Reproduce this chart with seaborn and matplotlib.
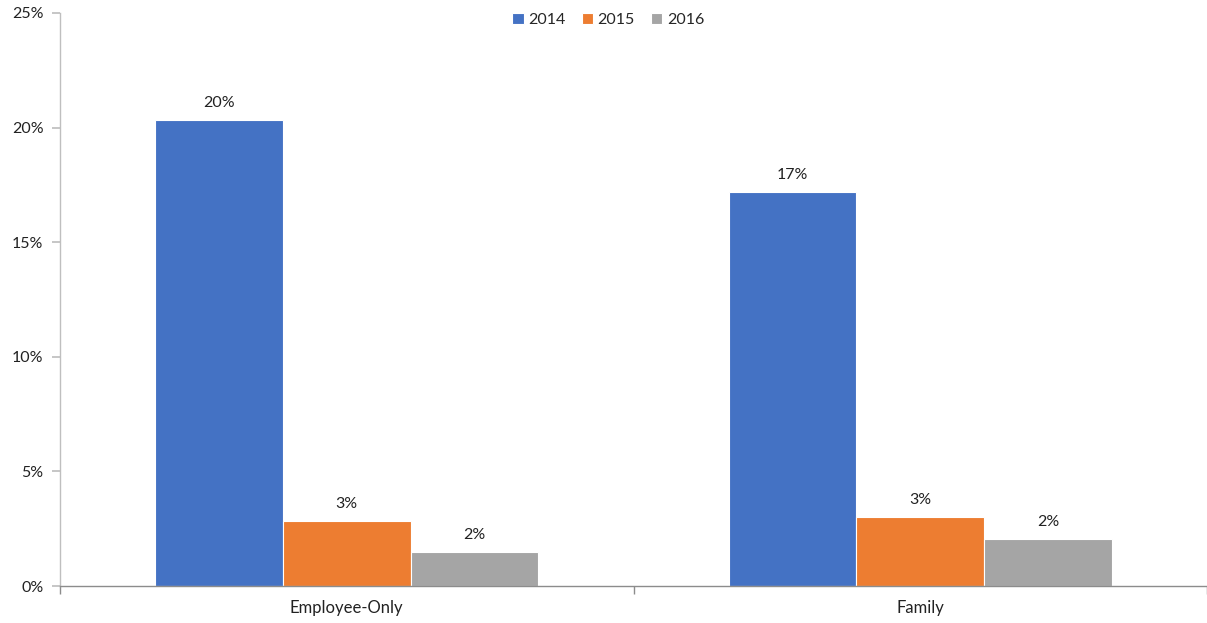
import matplotlib
matplotlib.use("Agg")
import matplotlib.pyplot as plt
import seaborn as sns
import pandas as pd
from matplotlib.ticker import FuncFormatter, FixedLocator

# Premium change by coverage tier and year (percent)
categories = ["Employee-Only", "Family"]
years = ["2014", "2015", "2016"]
values_2014 = [20.35, 17.2]
values_2015 = [2.85, 3.02]
values_2016 = [1.5, 2.05]
colors = ["#4472C4", "#ED7D31", "#A5A5A5"]

rows = []
for year, vals in zip(years, [values_2014, values_2015, values_2016]):
    for cat, v in zip(categories, vals):
        rows.append({"Tier": cat, "Year": year, "Value": v})
df = pd.DataFrame(rows)

sns.set_theme(style="white")
plt.rcParams["font.family"] = ["Lato", "DejaVu Sans"]

fig = plt.figure(figsize=(12.07, 6.23), dpi=100)
ax = fig.add_axes([60 / 1207, 1 - 586 / 623, 1147 / 1207, 573 / 623])

sns.barplot(data=df, x="Tier", y="Value", hue="Year", palette=colors,
            width=0.668, gap=0, saturation=1, errorbar=None, ax=ax,
            edgecolor="white", linewidth=0.8)

ax.set_xlim(-0.5, 1.5)
ax.set_ylim(0, 25)
ax.set_yticks([0, 5, 10, 15, 20, 25])
ax.yaxis.set_major_formatter(FuncFormatter(lambda v, p: f"{v:.0f}%"))
ax.set_xlabel("")
ax.set_ylabel("")

# value labels above each bar
for container in ax.containers:
    labels = [f"{v:.0f}%" for v in container.datavalues]
    ax.bar_label(container, labels=labels, padding=7, fontsize=11.5, color="#222222")

for side in ["top", "right"]:
    ax.spines[side].set_visible(False)
ax.spines["left"].set_color("#BFBFBF")
ax.spines["bottom"].set_color("#8C8C8C")
ax.spines["left"].set_linewidth(1)
ax.spines["bottom"].set_linewidth(1)

ax.tick_params(axis="y", which="major", left=True, length=6, color="#BFBFBF",
               labelsize=11.5, labelcolor="#222222", pad=6)
ax.tick_params(axis="x", which="major", bottom=False, length=0, labelsize=12,
               labelcolor="#222222", pad=10)
# category boundary ticks on the x axis
ax.xaxis.set_minor_locator(FixedLocator([-0.5, 0.5, 1.5]))
ax.tick_params(axis="x", which="minor", bottom=True, length=6, color="#8C8C8C")

leg = ax.legend(loc="upper center", bbox_to_anchor=(0.478, 1.025), ncol=3,
                frameon=False, fontsize=11.5, handlelength=0.7, handleheight=0.7,
                handletextpad=0.3, columnspacing=1.0)

fig.savefig("out.png", dpi=100)
